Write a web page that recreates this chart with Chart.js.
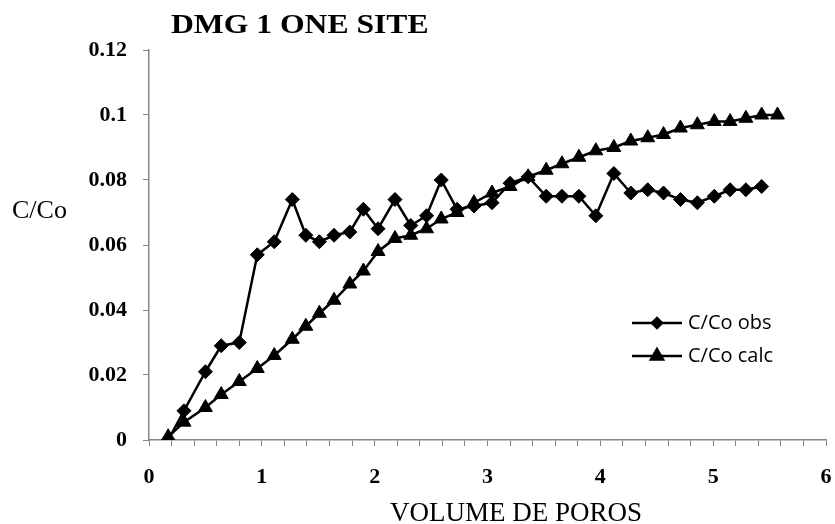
<!DOCTYPE html>
<html>
<head>
<meta charset="utf-8">
<script src="https://cdn.jsdelivr.net/npm/chart.js@4.4.1/dist/chart.umd.min.js"></script>
<style>
  body { margin: 0; background: #fff; }
  #wrap { width: 835px; height: 524px; position: relative; }
</style>
</head>
<body>
<div id="wrap"><canvas id="myChart"></canvas></div>
<script>
  // pore volumes (shared by both series)
  const poreVolume = [
    0.17, 0.31, 0.50, 0.64, 0.80, 0.96, 1.11, 1.27, 1.39, 1.51,
    1.64, 1.78, 1.90, 2.03, 2.18, 2.32, 2.46, 2.59, 2.73, 2.88,
    3.04, 3.20, 3.36, 3.52, 3.66, 3.81, 3.96, 4.12, 4.27, 4.42,
    4.56, 4.71, 4.86, 5.01, 5.15, 5.29, 5.43, 5.57
  ];

  const obsValues = [
    0, 0.009, 0.021, 0.029, 0.030, 0.057, 0.061, 0.074, 0.063, 0.061,
    0.063, 0.064, 0.071, 0.065, 0.074, 0.066, 0.069, 0.080, 0.071, 0.072,
    0.073, 0.079, 0.081, 0.075, 0.075, 0.075, 0.069, 0.082, 0.076, 0.077,
    0.076, 0.074, 0.073, 0.075, 0.077, 0.077, 0.078
  ];

  const calcValues = [
    0.001, 0.0055, 0.010, 0.014, 0.018, 0.022, 0.026, 0.031, 0.035, 0.039,
    0.043, 0.048, 0.052, 0.058, 0.062, 0.063, 0.065, 0.068, 0.070, 0.073,
    0.076, 0.078, 0.081, 0.083, 0.085, 0.087, 0.089, 0.090, 0.092, 0.093,
    0.094, 0.096, 0.097, 0.098, 0.098, 0.099, 0.100, 0.100
  ];

  const seriesNames = ['C/Co obs', 'C/Co calc'];
  const chartTitle = 'DMG 1 ONE SITE';
  const xTitle = 'VOLUME DE POROS';
  const yTitle = 'C/Co';

  const toPoints = (vals) => vals.map((v, i) => ({ x: poreVolume[i], y: v }));

  const axisGrey = '#868686';
  const serif = "'Liberation Serif', 'Times New Roman', serif";

  // titles and the in-plot legend
  const textPlugin = {
    id: 'texts',
    afterDraw(chart) {
      const ctx = chart.ctx;
      ctx.save();
      ctx.fillStyle = '#000';
      ctx.textBaseline = 'alphabetic';

      // title is a bit stretched sideways in the original
      ctx.save();
      ctx.translate(171, 33);
      ctx.scale(1.13, 1);
      ctx.font = 'bold 28px ' + serif;
      ctx.textAlign = 'left';
      ctx.fillText(chartTitle, 0, 0);
      ctx.restore();

      ctx.font = '26px ' + serif;
      ctx.textAlign = 'left';
      ctx.fillText(yTitle, 12, 218);

      ctx.font = '27px ' + serif;
      ctx.textAlign = 'center';
      ctx.fillText(xTitle, 516, 521);

      // legend
      const rows = [
        { y: 323, style: 'rectRot' },
        { y: 356, style: 'triangle' }
      ];
      rows.forEach((r, i) => {
        ctx.strokeStyle = '#000';
        ctx.lineWidth = 2.5;
        ctx.beginPath();
        ctx.moveTo(632, r.y);
        ctx.lineTo(682, r.y);
        ctx.stroke();
        Chart.helpers.drawPoint(ctx, {
          pointStyle: r.style,
          radius: r.style === 'triangle' ? 7 : 5,
          rotation: 0,
          borderWidth: 1
        }, 657, r.y);
        ctx.fillStyle = '#000';
        ctx.fill();
        ctx.font = "20px 'Open Sans', sans-serif";
        ctx.textAlign = 'left';
        ctx.textBaseline = 'middle';
        ctx.fillText(seriesNames[i], 688, r.y);
      });
      ctx.restore();
    }
  };

  const data = {
    datasets: [
      {
        label: seriesNames[0],
        data: toPoints(obsValues),
        borderColor: '#000',
        backgroundColor: '#000',
        borderWidth: 2.5,
        pointStyle: 'rectRot',
        pointRadius: 7,
        pointBorderWidth: 1,
        pointHoverRadius: 7,
      },
      {
        label: seriesNames[1],
        data: toPoints(calcValues),
        borderColor: '#000',
        backgroundColor: '#000',
        borderWidth: 2.5,
        pointStyle: 'triangle',
        pointRadius: 8,
        pointBorderWidth: 1,
        pointHoverRadius: 8,
      }
    ]
  };

  const config = {
    type: 'line',
    data: data,
    plugins: [textPlugin],
    options: {
      responsive: true,
      maintainAspectRatio: false,
      animation: false,
      layout: { padding: { top: 50, right: 6, left: 0, bottom: 0 } },
      plugins: {
        legend: { display: false },
        title: { display: false },
        tooltip: { enabled: false }
      },
      scales: {
        x: {
          type: 'linear',
          min: 0,
          max: 6,
          afterFit: (scale) => {
            scale.height = 84;
            scale.paddingLeft = 0;
            scale.paddingRight = 0;
          },
          border: { display: true, color: axisGrey, width: 1.5 },
          grid: { drawOnChartArea: false, drawTicks: true, tickLength: 6, color: axisGrey },
          ticks: {
            stepSize: 0.2,
            autoSkip: false,
            maxRotation: 0,
            padding: 18,
            color: '#000',
            font: { family: serif, size: 22, weight: 'bold' },
            callback: (v) => Math.abs(v - Math.round(v)) < 1e-6 ? String(Math.round(v)) : ''
          }
        },
        y: {
          min: 0,
          max: 0.12,
          afterFit: (scale) => { scale.width = 149; },
          border: { display: true, color: axisGrey, width: 1.5 },
          grid: { drawOnChartArea: false, drawTicks: true, tickLength: 6, color: axisGrey },
          ticks: {
            stepSize: 0.02,
            padding: 16,
            color: '#000',
            font: { family: serif, size: 22, weight: 'bold' },
            callback: (v) => String(+v.toFixed(2))
          }
        }
      }
    }
  };

  const myChart = new Chart(document.getElementById('myChart'), config);
</script>
</body>
</html>
